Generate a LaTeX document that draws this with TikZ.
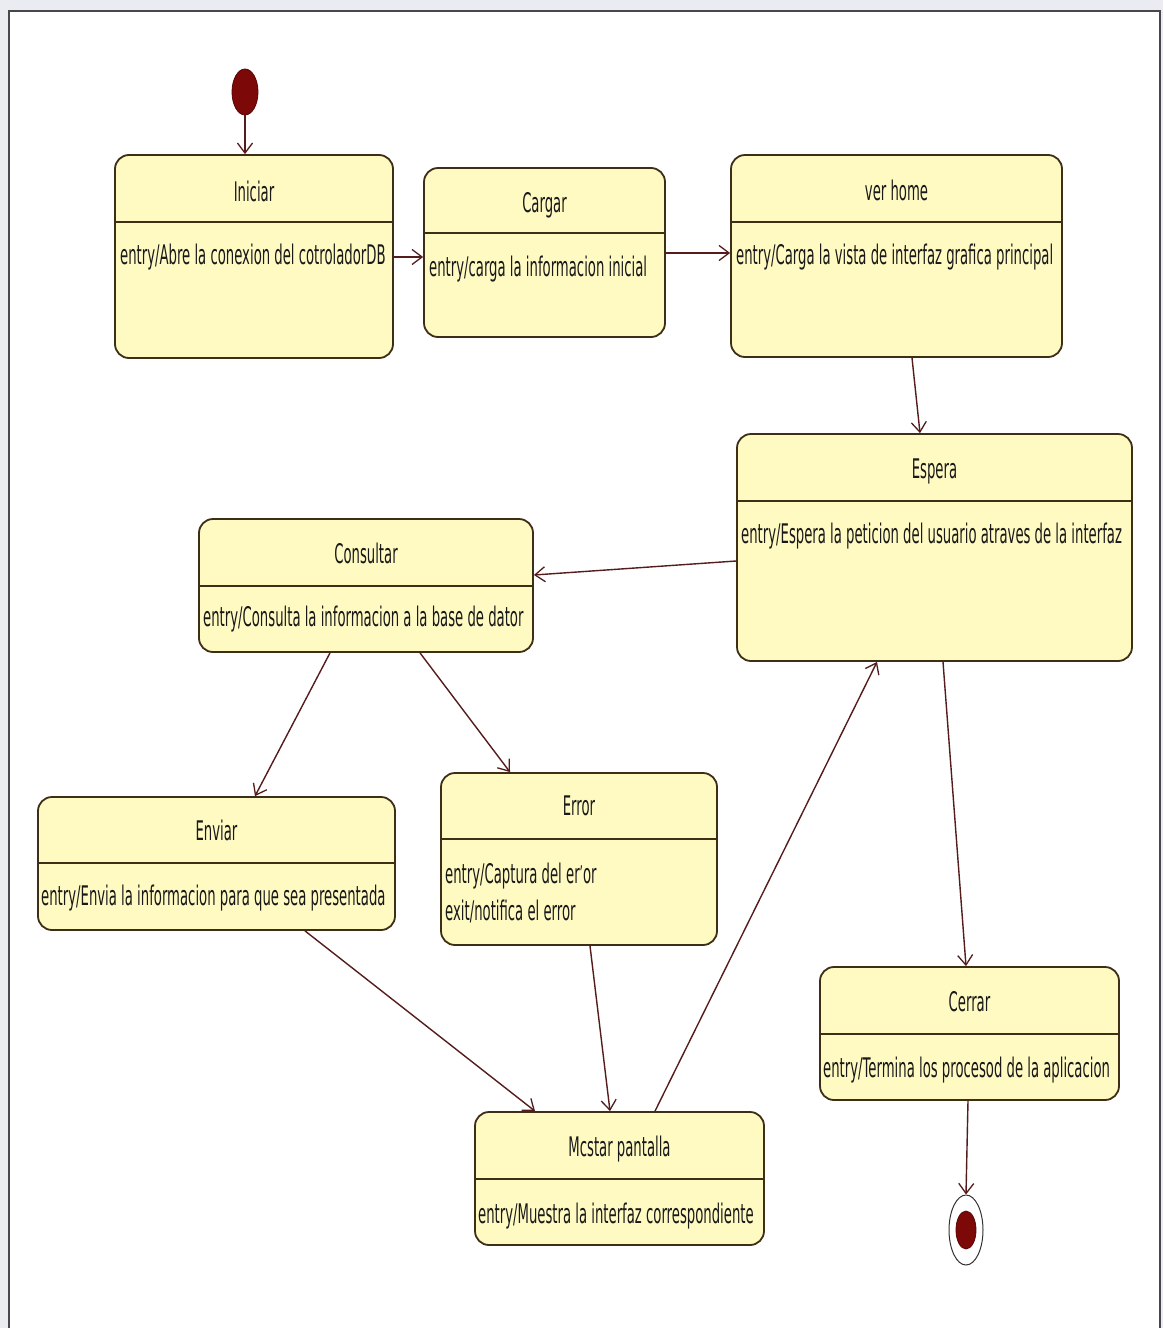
\documentclass[tikz,border=0pt]{standalone}
\usepackage{fontspec}
\setmainfont{DejaVu Sans}[FakeStretch=0.49]
\usetikzlibrary{arrows.meta,shapes.geometric}
\definecolor{boxfill}{RGB}{255,250,194}
\definecolor{boxline}{RGB}{62,46,22}
\definecolor{conn}{RGB}{85,28,28}
\definecolor{dotred}{RGB}{125,8,8}
\definecolor{bggray}{RGB}{234,236,241}
\definecolor{framegray}{RGB}{70,72,78}
\tikzset{
  statebox/.style={draw=boxline, fill=boxfill, line width=1.8pt, rounded corners=14pt, inner sep=0pt},
  sepline/.style={draw=boxline, line width=1.8pt},
  titletext/.style={anchor=base, inner sep=0pt, text=black!90, font=\fontsize{27}{32}\selectfont},
  entrytext/.style={anchor=base west, inner sep=0pt, text=black!90, font=\fontsize{27}{32}\selectfont},
  conn/.style={draw=conn, line width=1.4pt, -{Straight Barb[length=10pt,width=15pt,line width=1.3pt]}},
}
\begin{document}
\begin{tikzpicture}[x=1pt,y=-1pt]
\useasboundingbox (0,0) rectangle (1163,1328);
\fill[bggray] (0,0) rectangle (1163,1328);
\draw[framegray, line width=1.6pt, fill=white] (9,11) rectangle (1160,1340);

% initial and final states
\node[ellipse, fill=dotred, draw=dotred!70!black, line width=0.8pt, minimum width=26pt, minimum height=46pt, inner sep=0pt] (init) at (245,92) {};
\node[ellipse, fill=white, draw=black!80, line width=1pt, minimum width=34pt, minimum height=70pt, inner sep=0pt] (final) at (966,1230) {};
\node[ellipse, fill=dotred, draw=dotred!70!black, line width=0.8pt, minimum width=20pt, minimum height=38pt, inner sep=0pt] (finaldot) at (966,1230) {};

% states
\node[statebox, minimum width=278pt, minimum height=203pt] (iniciar) at (254,256.5) {};
\draw[sepline] (iniciar.west |- 0,222) -- (iniciar.east |- 0,222);
\node[titletext] (iniciar-t) at (254,201) {Iniciar};
\node[entrytext] (iniciar-e) at (120,264) {entry/Abre la conexion del cotroladorDB};

\node[statebox, minimum width=241pt, minimum height=169pt] (cargar) at (544.5,252.5) {};
\draw[sepline] (cargar.west |- 0,233) -- (cargar.east |- 0,233);
\node[titletext] (cargar-t) at (544.5,212) {Cargar};
\node[entrytext] (cargar-e) at (429,276) {entry/carga la informacion inicial};

\node[statebox, minimum width=331pt, minimum height=202pt] (verhome) at (896.5,256) {};
\draw[sepline] (verhome.west |- 0,222) -- (verhome.east |- 0,222);
\node[titletext] (verhome-t) at (896.5,200) {ver home};
\node[entrytext] (verhome-e) at (736,264) {entry/Carga la vista de interfaz grafica principal};

\node[statebox, minimum width=395pt, minimum height=227pt] (espera) at (934.5,547.5) {};
\draw[sepline] (espera.west |- 0,501) -- (espera.east |- 0,501);
\node[titletext] (espera-t) at (934.5,478) {Espera};
\node[entrytext] (espera-e) at (741,543) {entry/Espera la peticion del usuario atraves de la interfaz};

\node[statebox, minimum width=334pt, minimum height=133pt] (consultar) at (366,585.5) {};
\draw[sepline] (consultar.west |- 0,586) -- (consultar.east |- 0,586);
\node[titletext] (consultar-t) at (366,563) {Consultar};
\node[entrytext] (consultar-e) at (203,626) {entry/Consulta la informacion a la base de dator};

\node[statebox, minimum width=357pt, minimum height=133pt] (enviar) at (216.5,863.5) {};
\draw[sepline] (enviar.west |- 0,863) -- (enviar.east |- 0,863);
\node[titletext] (enviar-t) at (216.5,840) {Enviar};
\node[entrytext] (enviar-e) at (41,905) {entry/Envia la informacion para que sea presentada};

\node[statebox, minimum width=276pt, minimum height=172pt] (error) at (579,859) {};
\draw[sepline] (error.west |- 0,839) -- (error.east |- 0,839);
\node[titletext] (error-t) at (579,815) {Error};
\node[entrytext] (error-e1) at (445,883) {entry/Captura del er\raisebox{2pt}{\scalebox{0.8}{'}}or};
\node[entrytext] (error-e2) at (445,920) {exit/notifica el error};

\node[statebox, minimum width=289pt, minimum height=133pt] (mostar) at (619.5,1178.5) {};
\draw[sepline] (mostar.west |- 0,1179) -- (mostar.east |- 0,1179);
\node[titletext] (mostar-t) at (619.5,1156) {Mcstar pantalla};
\node[entrytext] (mostar-e) at (478,1223) {entry/Muestra la interfaz correspondiente};

\node[statebox, minimum width=299pt, minimum height=133pt] (cerrar) at (969.5,1033.5) {};
\draw[sepline] (cerrar.west |- 0,1034) -- (cerrar.east |- 0,1034);
\node[titletext] (cerrar-t) at (969.5,1011) {Cerrar};
\node[entrytext] (cerrar-e) at (823,1077) {entry/Termina los procesod de la aplicacion};

% transitions
\draw[conn] (init.south) -- (init.south |- iniciar.north);
\draw[conn] (iniciar.east |- 0,257) -- (cargar.west |- 0,257);
\draw[conn] (cargar.east |- 0,253) -- (verhome.west |- 0,253);
\draw[conn] (912,0 |- verhome.south) -- (920,0 |- espera.north);
\draw[conn] (espera.west |- 0,561) -- (consultar.east |- 0,575);
\draw[conn] (330,0 |- consultar.south) -- (255,0 |- enviar.north);
\draw[conn] (420,0 |- consultar.south) -- (510,0 |- error.north);
\draw[conn] (305,0 |- enviar.south) -- (535,0 |- mostar.north);
\draw[conn] (590,0 |- error.south) -- (610,0 |- mostar.north);
\draw[conn] (655,0 |- mostar.north) -- (877,0 |- espera.south);
\draw[conn] (943,0 |- espera.south) -- (966,0 |- cerrar.north);
\draw[conn] (968,0 |- cerrar.south) -- (final.north);
\end{tikzpicture}
\end{document}
